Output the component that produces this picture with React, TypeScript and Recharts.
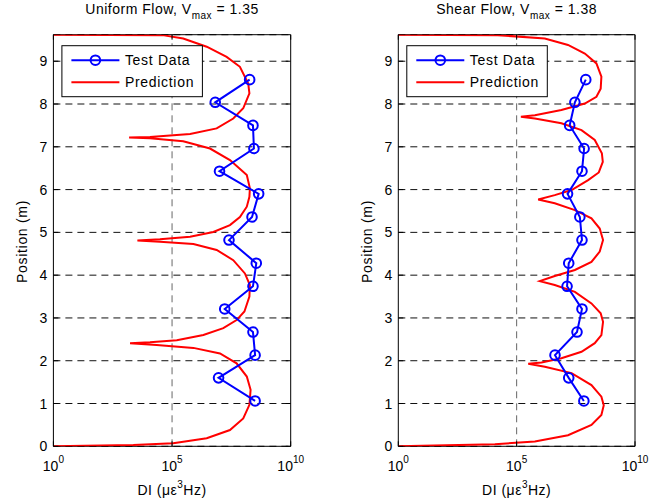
import React from "react";
import { ScatterChart, Scatter, XAxis, YAxis, CartesianGrid, ReferenceLine } from "recharts";

// measurement positions along the pipe (m), shared by both runs
const testPositions = [1.06, 1.6, 2.13, 2.67, 3.21, 3.74, 4.28, 4.82, 5.36, 5.9, 6.43, 6.96, 7.5, 8.04, 8.57];

// log10 of DI
const uniformTestLog = [8.5, 6.96, 8.5, 8.41, 7.22, 8.41, 8.55, 7.4, 8.37, 8.65, 7.0, 8.45, 8.41, 6.82, 8.27];
const shearTestLog = [7.84, 7.2, 6.62, 7.55, 7.76, 7.13, 7.2, 7.76, 7.67, 7.15, 7.76, 7.85, 7.24, 7.46, 7.92];

const uniformPredPos = [
  0, 0.03, 0.07, 0.19, 0.38, 0.65, 0.97, 1.32, 1.63, 1.94, 2.17, 2.3, 2.37, 2.41, 2.43, 2.48, 2.6, 2.76, 2.95,
  3.15, 3.5, 3.77, 4.04, 4.35, 4.59, 4.73, 4.78, 4.81, 4.84, 4.9, 5.01, 5.17, 5.36, 5.6, 5.83, 6.03, 6.34, 6.69,
  6.96, 7.13, 7.2, 7.22, 7.23, 7.3, 7.43, 7.66, 7.9, 8.25, 8.48, 8.87, 9.1, 9.34, 9.53, 9.61, 9.62,
];
const uniformPredLog = [
  0, 3.37, 5.05, 6.46, 7.44, 8.0, 8.26, 8.31, 8.15, 7.72, 7.02, 5.9, 4.35, 3.23, 4.07, 5.2, 6.32, 7.16, 7.72,
  8.05, 8.26, 8.28, 8.07, 7.58, 6.88, 5.9, 4.49, 3.54, 4.49, 5.76, 6.74, 7.44, 7.86, 8.15, 8.26, 8.28, 8.15, 7.44,
  6.6, 5.47, 4.07, 3.19, 4.07, 5.76, 6.88, 7.58, 8.0, 8.26, 8.21, 7.86, 7.3, 6.46, 5.47, 4.6, 0,
];

const shearPredPos = [
  0, 0.05, 0.11, 0.26, 0.5, 0.73, 0.96, 1.16, 1.43, 1.71, 1.86, 1.93, 1.96, 2.06, 2.21, 2.41, 2.6, 2.91, 3.11,
  3.34, 3.61, 3.77, 3.86, 3.98, 4.12, 4.31, 4.55, 4.82, 5.09, 5.33, 5.52, 5.68, 5.77, 5.87, 5.99, 6.22, 6.4, 6.65,
  6.85, 7.16, 7.39, 7.55, 7.66, 7.7, 7.74, 7.86, 8.01, 8.17, 8.36, 8.64, 8.95, 9.18, 9.38, 9.53, 9.61, 9.62,
];
const shearPredLog = [
  0, 4.08, 5.77, 7.17, 8.16, 8.58, 8.68, 8.58, 8.16, 7.32, 6.19, 5.49, 6.05, 6.89, 7.74, 8.3, 8.58, 8.65, 8.55,
  8.16, 7.46, 6.61, 5.98, 6.61, 7.46, 8.16, 8.51, 8.65, 8.51, 8.16, 7.46, 6.61, 5.91, 6.61, 7.32, 8.02, 8.47, 8.64,
  8.6, 8.3, 7.74, 6.89, 5.77, 5.18, 5.77, 6.89, 7.88, 8.37, 8.55, 8.58, 8.37, 7.88, 7.17, 6.19, 4.2, 0,
];

const yTicks = [0, 1, 2, 3, 4, 5, 6, 7, 8, 9];
const xTicks = [1, 1e5, 1e10];
const Y_MAX = 9.62;

const toPoints = (pos: number[], logs: number[]) => pos.map((p, i) => ({ pos: p, di: Math.pow(10, logs[i]) }));

const FONT = "'Liberation Sans', Arial, Helvetica, sans-serif";
const TOP = 34.7;
const BOTTOM = 446.3;
const H = 503;

type PanelProps = {
  left: number;
  width: number;
  plotLeft: number;
  plotRight: number;
  title: string;
  vmax: string;
  test: { pos: number; di: number }[];
  pred: { pos: number; di: number }[];
};

function Panel({ left, width, plotLeft, plotRight, title, vmax, test, pred }: PanelProps) {
  const yTick = (props: any) => {
    const { y, payload } = props;
    return (
      <g>
        <line x1={plotLeft} x2={plotLeft + 5} y1={y} y2={y} stroke="#000" />
        <line x1={plotRight - 5} x2={plotRight} y1={y} y2={y} stroke="#000" />
        <text x={plotLeft - 6} y={y + 5} textAnchor="end" fontSize={14} fontFamily={FONT} fill="#000">
          {payload.value}
        </text>
      </g>
    );
  };
  const xTick = (props: any) => {
    const { x, payload } = props;
    const exp = Math.round(Math.log10(payload.value));
    return (
      <g>
        <line x1={x} x2={x} y1={BOTTOM} y2={BOTTOM - 5} stroke="#000" />
        <line x1={x} x2={x} y1={TOP} y2={TOP + 5} stroke="#000" />
        <text x={x} y={BOTTOM + 24.5} textAnchor="middle" fontSize={14} fontFamily={FONT} fill="#000">
          <tspan>10</tspan>
          <tspan dy={-8} fontSize={10}>
            {exp}
          </tspan>
        </text>
      </g>
    );
  };

  const cx = (plotLeft + plotRight) / 2;
  const lgX = plotLeft + 8.5;
  const lgY = TOP + 11;

  return (
    <div style={{ position: "absolute", left, top: 0, width, height: H }}>
      <ScatterChart
        width={width}
        height={H}
        margin={{ top: TOP, right: width - plotRight, left: plotLeft - 40, bottom: H - BOTTOM - 30 }}
      >
        <CartesianGrid vertical={false} stroke="#111" strokeDasharray="7 5" />
        <ReferenceLine x={1e5} stroke="#666" strokeDasharray="7 5" />
        <ReferenceLine x={1e10} stroke="#000" />
        <ReferenceLine y={Y_MAX} stroke="#000" />
        <XAxis
          dataKey="di"
          type="number"
          scale="log"
          domain={[1, 1e10]}
          ticks={xTicks}
          allowDataOverflow
          height={30}
          tickLine={false}
          axisLine={{ stroke: "#000" }}
          tick={xTick}
          interval={0}
        />
        <YAxis
          dataKey="pos"
          type="number"
          domain={[0, Y_MAX]}
          ticks={yTicks}
          allowDataOverflow
          width={40}
          tickLine={false}
          axisLine={{ stroke: "#000" }}
          tick={yTick}
          interval={0}
        />
        <Scatter
          data={pred}
          fill="none"
          stroke="#ff0000"
          line={{ stroke: "#ff0000", strokeWidth: 2 }}
          shape={() => <g />}
          isAnimationActive={false}
        />
        <Scatter
          data={test}
          fill="none"
          stroke="#0000ff"
          line={{ stroke: "#0000ff", strokeWidth: 2 }}
          shape={(p: any) => <circle cx={p.cx} cy={p.cy} r={4.8} fill="none" stroke="#0000ff" strokeWidth={2} />}
          isAnimationActive={false}
        />
      </ScatterChart>
      <svg
        width={width}
        height={H}
        style={{ position: "absolute", left: 0, top: 0, pointerEvents: "none" }}
        fontFamily={FONT}
        fontSize={14}
      >
        <text x={cx} y={14} textAnchor="middle" letterSpacing={0.5}>
          {title}, V
          <tspan dy={5} fontSize={10}>
            max
          </tspan>
          <tspan dy={-5}> = {vmax}</tspan>
        </text>
        <text x={cx} y={495} textAnchor="middle" letterSpacing={0.5}>
          DI (με
          <tspan dy={-7} fontSize={10}>
            3
          </tspan>
          <tspan dy={7}>Hz)</tspan>
        </text>
        <text
          transform={`translate(${plotLeft - 26},241.5) rotate(-90)`}
          textAnchor="middle"
          letterSpacing={0.7}
        >
          Position (m)
        </text>
        <rect x={lgX} y={lgY} width={140.5} height={51} fill="#fff" stroke="#000" />
        <line x1={lgX + 9.5} x2={lgX + 57.5} y1={lgY + 14.5} y2={lgY + 14.5} stroke="#0000ff" strokeWidth={2} />
        <circle cx={lgX + 33.5} cy={lgY + 14.5} r={4.8} fill="none" stroke="#0000ff" strokeWidth={2} />
        <text x={lgX + 63} y={lgY + 19.5} letterSpacing={0.7}>
          Test Data
        </text>
        <line x1={lgX + 9.5} x2={lgX + 57.5} y1={lgY + 36.5} y2={lgY + 36.5} stroke="#ff0000" strokeWidth={2} />
        <text x={lgX + 63} y={lgY + 41.5} letterSpacing={0.7}>
          Prediction
        </text>
      </svg>
    </div>
  );
}

export default function App() {
  return (
    <div style={{ position: "absolute", left: 0, top: 0, width: 662, height: H, background: "#fff" }}>
      <Panel
        left={0}
        width={330}
        plotLeft={53.4}
        plotRight={290.7}
        title="Uniform Flow"
        vmax="1.35"
        test={toPoints(testPositions, uniformTestLog)}
        pred={toPoints(uniformPredPos, uniformPredLog)}
      />
      <Panel
        left={330}
        width={332}
        plotLeft={68.3}
        plotRight={305}
        title="Shear Flow"
        vmax="1.38"
        test={toPoints(testPositions, shearTestLog)}
        pred={toPoints(shearPredPos, shearPredLog)}
      />
    </div>
  );
}
